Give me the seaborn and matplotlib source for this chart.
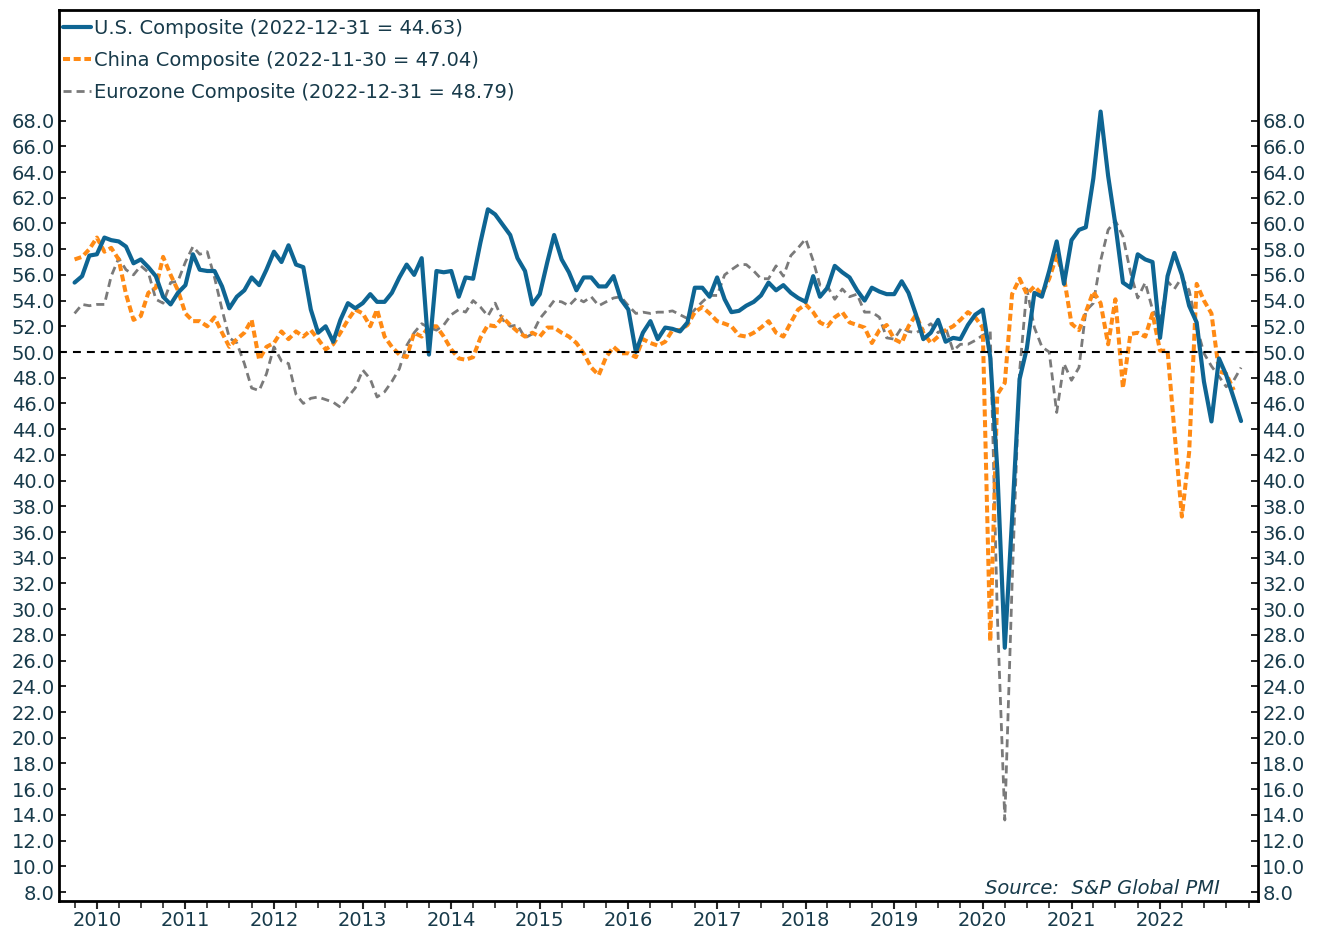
import numpy as np
import pandas as pd
import seaborn as sns
import matplotlib.pyplot as plt
import matplotlib.dates as mdates
from matplotlib.ticker import FormatStrFormatter

# monthly composite PMI readings, Oct 2009 .. Dec 2022
months = pd.date_range('2009-10-01', '2022-12-01', freq='MS')

us_composite = [
    55.4, 55.9, 57.5,
    57.6, 58.9, 58.7, 58.6, 58.2, 56.9, 57.2, 56.6, 55.9, 54.3, 53.7, 54.6,
    55.2, 57.6, 56.4, 56.3, 56.3, 55.1, 53.4, 54.3, 54.8, 55.8, 55.2, 56.4,
    57.8, 57.0, 58.3, 56.8, 56.6, 53.3, 51.5, 52.0, 50.8, 52.5, 53.8, 53.4,
    53.8, 54.5, 53.9, 53.9, 54.6, 55.8, 56.8, 56.0, 57.3, 49.8, 56.3, 56.2,
    56.3, 54.3, 55.8, 55.7, 58.5, 61.1, 60.7, 59.9, 59.1, 57.3, 56.3, 53.7,
    54.5, 57.0, 59.1, 57.2, 56.2, 54.8, 55.8, 55.8, 55.1, 55.1, 55.9, 54.1,
    53.3, 50.0, 51.5, 52.4, 51.0, 51.9, 51.8, 51.6, 52.3, 55.0, 55.0, 54.3,
    55.8, 54.1, 53.1, 53.2, 53.6, 53.9, 54.4, 55.4, 54.8, 55.2, 54.6, 54.2,
    53.9, 55.9, 54.3, 55.0, 56.7, 56.2, 55.8, 54.8, 54.0, 55.0, 54.7, 54.5,
    54.5, 55.5, 54.6, 52.9, 51.0, 51.5, 52.5, 50.8, 51.1, 51.0, 52.1, 52.9,
    53.3, 49.6, 40.9, 27.0, 37.0, 47.9, 50.3, 54.6, 54.3, 56.3, 58.6, 55.3,
    58.7, 59.5, 59.7, 63.5, 68.7, 63.7, 59.9, 55.4, 55.0, 57.6, 57.2, 57.0,
    51.1, 55.9, 57.7, 56.0, 53.6, 52.3, 47.7, 44.6, 49.5, 48.2, 46.4, 44.63,
]

china_composite = [
    57.2, 57.4, 58.0,
    58.9, 57.8, 58.1, 57.2, 54.5, 52.5, 52.8, 54.6, 55.0, 57.4, 56.0, 54.8,
    53.0, 52.4, 52.4, 52.0, 52.7, 51.5, 50.4, 51.0, 51.5, 52.5, 49.4, 50.4,
    50.7, 51.6, 51.0, 51.6, 51.2, 51.7, 51.0, 50.2, 50.6, 51.5, 52.5, 53.3,
    53.0, 52.0, 53.3, 51.2, 50.4, 49.8, 49.6, 51.5, 51.2, 52.0, 52.0, 51.2,
    50.2, 49.5, 49.4, 49.6, 51.1, 52.1, 52.0, 52.7, 52.1, 51.6, 51.2, 51.5,
    51.2, 51.9, 51.9, 51.5, 51.2, 50.7, 49.9, 48.8, 48.2, 49.6, 50.4, 49.9,
    49.9, 49.6, 51.0, 50.7, 50.5, 50.8, 51.7, 51.7, 52.1, 53.1, 53.5, 53.0,
    52.4, 52.2, 52.0, 51.3, 51.2, 51.5, 51.9, 52.4, 51.5, 51.2, 52.3, 53.3,
    53.7, 53.1, 52.3, 52.0, 52.7, 53.1, 52.3, 52.1, 51.9, 50.7, 51.7, 52.1,
    51.0, 50.7, 52.0, 52.9, 51.5, 50.7, 51.2, 51.7, 52.0, 52.5, 53.1, 52.7,
    51.9, 27.5, 46.7, 47.6, 54.5, 55.7, 54.5, 55.1, 54.5, 55.7, 57.5, 55.8,
    52.2, 51.7, 53.1, 54.7, 53.8, 50.6, 54.1, 47.2, 51.4, 51.5, 51.2, 53.0,
    50.1, 50.1, 43.9, 37.2, 42.2, 55.3, 54.0, 53.0, 48.5, 48.3, 47.04, np.nan,
]

eurozone_composite = [
    53.0, 53.7, 53.6,
    53.7, 53.7, 55.9, 57.3, 56.4, 56.0, 56.7, 56.2, 54.1, 53.8, 55.4, 55.5,
    57.0, 58.2, 57.6, 57.8, 55.8, 53.3, 51.1, 50.7, 49.1, 47.2, 47.0, 48.3,
    50.4, 49.3, 49.1, 46.7, 46.0, 46.4, 46.5, 46.3, 46.1, 45.7, 46.5, 47.2,
    48.6, 47.9, 46.5, 46.9, 47.7, 48.7, 50.5, 51.5, 52.2, 51.9, 51.7, 52.1,
    52.9, 53.3, 53.1, 54.0, 53.5, 52.8, 53.8, 52.5, 52.0, 52.1, 51.1, 51.4,
    52.6, 53.3, 54.0, 53.9, 53.6, 54.2, 53.9, 54.3, 53.6, 53.9, 54.2, 54.3,
    53.6, 53.0, 53.1, 53.0, 53.1, 53.1, 53.2, 52.9, 52.6, 53.3, 53.9, 54.4,
    54.4, 56.0, 56.4, 56.8, 56.8, 56.3, 55.7, 55.7, 56.7, 55.9, 57.5, 58.1,
    58.8, 57.1, 55.2, 55.1, 54.1, 54.9, 54.3, 54.5, 53.1, 53.1, 52.7, 51.1,
    51.0, 51.9, 51.6, 51.5, 51.8, 52.2, 51.5, 51.9, 50.1, 50.6, 50.6, 50.9,
    51.3, 51.6, 29.7, 13.6, 31.9, 48.5, 54.9, 51.9, 50.4, 50.0, 45.3, 49.1,
    47.8, 48.8, 53.2, 53.8, 57.1, 59.5, 60.2, 59.0, 56.2, 54.2, 55.4, 53.3,
    52.3, 55.5, 54.9, 55.8, 54.8, 52.0, 49.9, 48.9, 48.1, 47.3, 47.8, 48.79,
]

series_labels = [
    'U.S. Composite (2022-12-31 = 44.63)',
    'China Composite (2022-11-30 = 47.04)',
    'Eurozone Composite (2022-12-31 = 48.79)',
]
year_ticks = pd.date_range('2010-01-01', '2022-01-01', freq='YS')
quarter_ticks = pd.date_range('2009-10-01', '2023-01-01', freq='QS')
y_ticks = np.arange(8, 70, 2)

df = pd.DataFrame({
    'date': months,
    'us': us_composite,
    'china': china_composite,
    'euro': eurozone_composite,
})

sns.set_theme(style='white')
plt.rcParams['font.family'] = ['DejaVu Sans']
TEXT = '#173a4a'

fig = plt.figure(figsize=(13.18, 9.34), dpi=100)
ax = fig.add_axes([0.0448, 0.0353, 0.9097, 0.954])

sns.lineplot(data=df, x='date', y='euro', ax=ax, color='#7a7a7a', lw=2.0,
             linestyle=(0, (2.9, 1.8)), estimator=None, zorder=2)
sns.lineplot(data=df, x='date', y='china', ax=ax, color='#ff8a14', lw=2.9,
             linestyle=(0, (1.75, 0.9)), estimator=None, zorder=3)
sns.lineplot(data=df, x='date', y='us', ax=ax, color='#0e6593', lw=3.0,
             estimator=None, zorder=4)

ax.axhline(50, color='black', lw=1.5, linestyle=(0, (3.8, 2.9)), zorder=5)

# axes limits / ticks
ax.set_ylim(7.3, 76.6)
ax.set_xlim(pd.Timestamp('2009-07-29'), pd.Timestamp('2023-02-09'))
ax.set_yticks(y_ticks)
ax.yaxis.set_major_formatter(FormatStrFormatter('%.1f'))
ax.set_xticks(year_ticks)
ax.set_xticks(quarter_ticks, minor=True)
ax.xaxis.set_major_formatter(mdates.DateFormatter('%Y'))

ax.tick_params(axis='y', which='major', direction='in', left=True, right=True,
               labelleft=True, labelright=True, length=5, width=1.2,
               labelsize=14, labelcolor=TEXT, color='black', pad=3)
ax.tick_params(axis='x', which='major', direction='out', bottom=True,
               length=6, width=1.5, labelsize=14, labelcolor=TEXT, pad=1)
ax.tick_params(axis='x', which='minor', direction='out', bottom=True,
               length=5, width=1.2)

for side in ['left', 'right', 'top', 'bottom']:
    ax.spines[side].set_color('black')
    ax.spines[side].set_linewidth(2)

ax.set_xlabel('')
ax.set_ylabel('')
ax.grid(False)

handles = ax.get_lines()[:3]
order = [handles[2], handles[1], handles[0]]
leg = ax.legend(order, series_labels, loc='upper left', bbox_to_anchor=(0.0, 0.994),
                frameon=False, fontsize=14, handlelength=1.45, handletextpad=0.15,
                borderpad=0.2, borderaxespad=0.0, labelspacing=0.66)
for t in leg.get_texts():
    t.set_color(TEXT)

ax.text(0.968, 0.0146, 'Source:  S&P Global PMI', transform=ax.transAxes,
        ha='right', va='center', fontsize=14, style='italic', color=TEXT)

fig.savefig('out.png', dpi=100)
